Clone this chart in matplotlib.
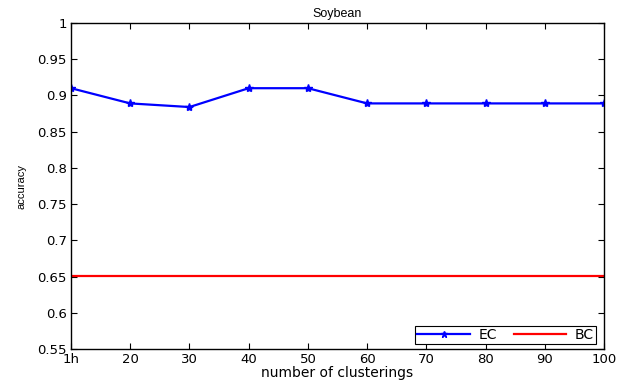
import numpy as np
import matplotlib.pyplot as plt

plt.rcParams['font.family'] = ['DejaVu Sans']

n_clusterings = [10, 20, 30, 40, 50, 60, 70, 80, 90, 100]
tick_labels = ['1h', '20', '30', '40', '50', '60', '70', '80', '90', '100']
ec_acc = [0.910, 0.889, 0.884, 0.910, 0.910, 0.889, 0.889, 0.889, 0.889, 0.889]
bc_acc = [0.651] * len(n_clusterings)

fig = plt.figure(figsize=(6.28, 3.82), dpi=100)
ax = fig.add_axes([71 / 628, 1 - 349 / 382, (604 - 71) / 628, (349 - 23) / 382])

ax.plot(n_clusterings, ec_acc, color='blue', lw=1.6, marker='*', ms=6, label='EC')
ax.plot(n_clusterings, bc_acc, color='red', lw=1.6, label='BC')

ax.set_xlim(10, 100)
ax.set_ylim(0.55, 1.0)
ax.set_xticks(n_clusterings)
ax.set_xticklabels(tick_labels)
ax.set_yticks(np.arange(0.55, 1.001, 0.05))
ax.set_yticklabels(['0.55', '0.6', '0.65', '0.7', '0.75', '0.8', '0.85', '0.9', '0.95', '1'])
ax.tick_params(direction='in', top=True, right=True, labelsize=9.5, length=4, pad=3)
for s in ax.spines.values():
    s.set_linewidth(1.0)

ax.set_title('Soybean', fontsize=9, pad=4, family='Liberation Sans')
ax.set_xlabel('number of clusterings', fontsize=10, labelpad=0)
ax.set_ylabel('accuracy', fontsize=8, labelpad=8, family='Liberation Sans')

leg = ax.legend(loc='lower right', bbox_to_anchor=(596 / 628, 1 - 344 / 382),
                bbox_transform=fig.transFigure, ncol=2, fontsize=10, fancybox=False,
                edgecolor='black', framealpha=1, borderaxespad=0,
                handlelength=3.8, handletextpad=0.6, columnspacing=1.2,
                borderpad=0.15, markerscale=0.8)
leg.get_frame().set_linewidth(0.8)

fig.savefig('out.png', dpi=100)
